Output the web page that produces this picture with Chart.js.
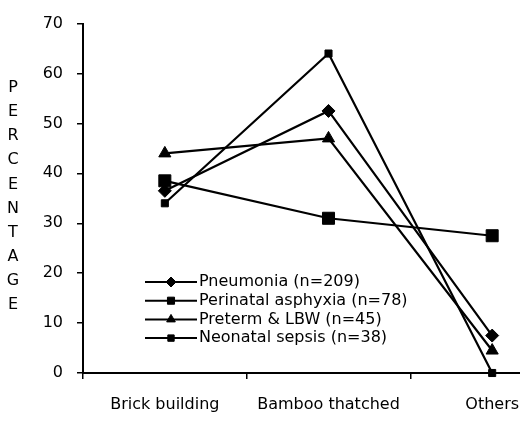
<!DOCTYPE html>
<html>
<head>
<meta charset="utf-8">
<script src="https://cdn.jsdelivr.net/npm/chart.js@4.4.1/dist/chart.umd.min.js"></script>
<style>
  html, body { margin: 0; padding: 0; background: #fff; }
  #wrap { width: 520px; height: 422px; }
</style>
</head>
<body>
<div id="wrap"><canvas id="chart" width="520" height="422"></canvas></div>
<script>
// Chart values
var categories = ['Brick building', 'Bamboo thatched', 'Others'];
var seriesNames = ['Pneumonia (n=209)', 'Perinatal asphyxia (n=78)', 'Preterm & LBW (n=45)', 'Neonatal sepsis (n=38)'];
var pneumonia = [36.5, 52.5, 7.5];
var perinatalAsphyxia = [38.5, 31, 27.5];
var pretermLbw = [44, 47, 4.5];
var neonatalSepsis = [34, 64, 0];
var yTicks = [0, 10, 20, 30, 40, 50, 60, 70];
var axisTitle = 'PERCENTAGE';

var FONT = 'DejaVu Sans';

// put each category in the middle of its band
function toPoints(values) {
    return values.map(function (v, i) { return { x: i + 0.5, y: v }; });
}

function makeSeries(label, values, style, radius, legendRadius) {
    return {
        label: label,
        data: toPoints(values),
        borderColor: '#000',
        backgroundColor: '#000',
        borderWidth: 2.2,
        pointStyle: style,
        pointRadius: radius,
        pointBorderWidth: 1,
        legendRadius: legendRadius,
        clip: false,
        tension: 0
    };
}

// Legend sits inside the plot, bottom left
var legendInside = {
    id: 'legendInside',
    afterDatasetsDraw: function (chart) {
        var ctx = chart.ctx;
        var area = chart.chartArea;
        var x0 = area.left + 62, lineLen = 52, top = 282, rowH = 18.7;
        ctx.save();
        chart.data.datasets.forEach(function (ds, i) {
            var y = top + i * rowH;
            ctx.strokeStyle = '#000';
            ctx.fillStyle = '#000';
            ctx.lineWidth = 2;
            ctx.beginPath();
            ctx.moveTo(x0, y);
            ctx.lineTo(x0 + lineLen, y);
            ctx.stroke();
            ctx.lineWidth = 1;
            Chart.helpers.drawPoint(ctx, { pointStyle: ds.pointStyle, rotation: 0, radius: ds.legendRadius, borderWidth: 1 }, x0 + lineLen / 2, y);
            ctx.font = '16px "' + FONT + '"';
            ctx.textAlign = 'left';
            ctx.textBaseline = 'middle';
            ctx.fillText(ds.label, x0 + lineLen + 2, y);
        });
        ctx.restore();
    }
};

// vertical stacked letters for the y axis title
var stackedTitle = {
    id: 'stackedTitle',
    afterDraw: function (chart) {
        var ctx = chart.ctx;
        ctx.save();
        ctx.font = '16px "' + FONT + '"';
        ctx.fillStyle = '#000';
        ctx.textAlign = 'center';
        ctx.textBaseline = 'middle';
        axisTitle.split('').forEach(function (ch, i) {
            ctx.fillText(ch, 13, 88 + i * 24.1);
        });
        ctx.restore();
    }
};

var ctx = document.getElementById('chart').getContext('2d');
new Chart(ctx, {
    type: 'line',
    data: {
        datasets: [
            makeSeries(seriesNames[0], pneumonia, 'rectRot', 6.5, 5),
            makeSeries(seriesNames[1], perinatalAsphyxia, 'rect', 8.5, 5),
            makeSeries(seriesNames[2], pretermLbw, 'triangle', 7, 5),
            makeSeries(seriesNames[3], neonatalSepsis, 'rect', 5, 4.5)
        ]
    },
    options: {
        responsive: false,
        animation: false,
        devicePixelRatio: 1,
        layout: { autoPadding: false, padding: { top: 14, left: 0, right: 0, bottom: 0 } },
        plugins: {
            legend: { display: false },
            tooltip: { enabled: false }
        },
        scales: {
            x: {
                type: 'linear',
                min: 0,
                max: 2.67,
                afterBuildTicks: function (scale) {
                    scale.ticks = categories.map(function (c, i) { return { value: i + 0.5 }; });
                },
                afterFit: function (scale) {
                    scale.height = 49;
                },
                ticks: {
                    color: '#000',
                    // tall line height pushes the labels down without side padding
                    font: { family: FONT, size: 16, lineHeight: 3.25 },
                    padding: 0,
                    maxRotation: 0,
                    autoSkip: false,
                    callback: function (v) { return categories[Math.round(v - 0.5)]; }
                },
                grid: {
                    offset: true,
                    drawOnChartArea: false,
                    color: '#000',
                    lineWidth: 1.5,
                    tickLength: 6
                },
                border: { color: '#000', width: 2 }
            },
            y: {
                min: yTicks[0],
                max: yTicks[yTicks.length - 1],
                afterBuildTicks: function (scale) {
                    scale.ticks = yTicks.map(function (v) { return { value: v }; });
                },
                afterFit: function (scale) { scale.width = 83; },
                ticks: {
                    color: '#000',
                    font: { family: FONT, size: 16 },
                    padding: 14
                },
                grid: {
                    drawOnChartArea: false,
                    color: '#000',
                    lineWidth: 1.5,
                    tickLength: 6
                },
                border: { color: '#000', width: 2 }
            }
        }
    },
    plugins: [legendInside, stackedTitle]
});
</script>
</body>
</html>
